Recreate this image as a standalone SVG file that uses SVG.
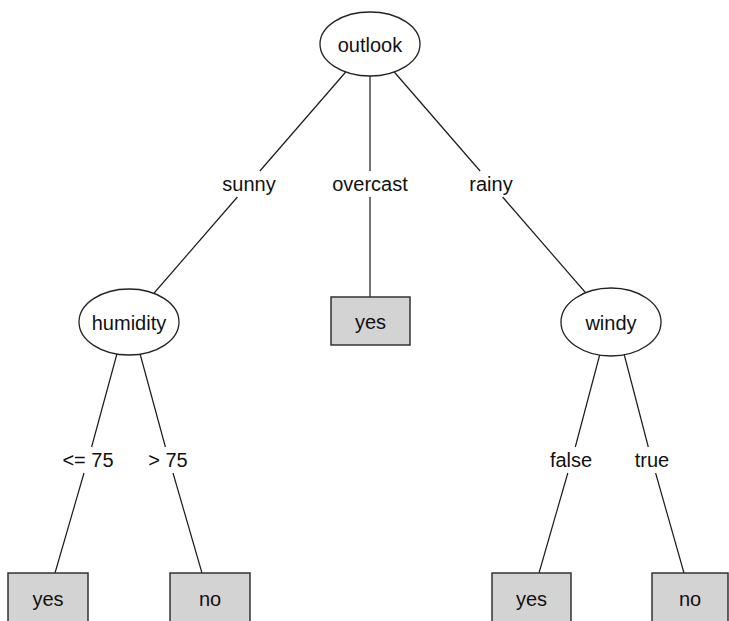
<svg xmlns="http://www.w3.org/2000/svg" width="729" height="621" viewBox="0 0 729 621">
<style>
.bg{fill:#fff}
.edge{stroke:#1a1a1a;stroke-width:1.2;fill:none}
.dec{fill:#fff;stroke:#222;stroke-width:1.3}
.leaf{fill:#d3d3d3;stroke:#333;stroke-width:1.5}
text{font-family:"Liberation Sans",Arial,sans-serif;font-size:20px;fill:#111;text-anchor:middle}
</style>
<rect class="bg" x="0" y="0" width="729" height="621"/>
<g id="connectors">
  <line class="edge" x1="370" y1="44" x2="259.9" y2="171"/>
  <line class="edge" x1="237.4" y1="197" x2="129" y2="322"/>
  <line class="edge" x1="370" y1="44" x2="370" y2="171"/>
  <line class="edge" x1="370" y1="197" x2="370" y2="297"/>
  <line class="edge" x1="370" y1="44" x2="480.1" y2="171"/>
  <line class="edge" x1="502.6" y1="197" x2="611" y2="322"/>
  <line class="edge" x1="118" y1="350" x2="91.6" y2="447"/>
  <line class="edge" x1="84" y1="473" x2="55" y2="573"/>
  <line class="edge" x1="139" y1="350" x2="165.4" y2="447"/>
  <line class="edge" x1="173" y1="473" x2="202" y2="573"/>
  <line class="edge" x1="601" y1="350" x2="575.3" y2="447"/>
  <line class="edge" x1="567.8" y1="473" x2="539" y2="573"/>
  <line class="edge" x1="623" y1="350" x2="648.3" y2="447"/>
  <line class="edge" x1="655.6" y1="473" x2="684" y2="573"/>
  <text x="249" y="191">sunny</text>
  <text x="370" y="191">overcast</text>
  <text x="491" y="191">rainy</text>
  <text x="88" y="467">&lt;= 75</text>
  <text x="168" y="467">&gt; 75</text>
  <text x="571" y="467">false</text>
  <text x="652" y="467">true</text>
</g>
<g id="outlook">
  <ellipse class="dec" cx="370" cy="44" rx="50" ry="32"/>
  <text x="370" y="52">outlook</text>
</g>
<g id="humidity">
  <ellipse class="dec" cx="129" cy="322" rx="50" ry="33"/>
  <text x="129" y="330">humidity</text>
</g>
<g id="windy">
  <ellipse class="dec" cx="611" cy="322" rx="50" ry="34"/>
  <text x="611" y="330">windy</text>
</g>
<g id="yes-overcast">
  <rect class="leaf" x="331" y="297" width="79" height="48"/>
  <text x="370.5" y="329">yes</text>
</g>
<g id="yes-humidity">
  <rect class="leaf" x="8" y="573" width="80" height="52"/>
  <text x="48" y="606">yes</text>
</g>
<g id="no-humidity">
  <rect class="leaf" x="170" y="573" width="80" height="52"/>
  <text x="210" y="606">no</text>
</g>
<g id="yes-windy">
  <rect class="leaf" x="492" y="573" width="79" height="52"/>
  <text x="531.5" y="606">yes</text>
</g>
<g id="no-windy">
  <rect class="leaf" x="652" y="573" width="76" height="52"/>
  <text x="690" y="606">no</text>
</g>
</svg>
